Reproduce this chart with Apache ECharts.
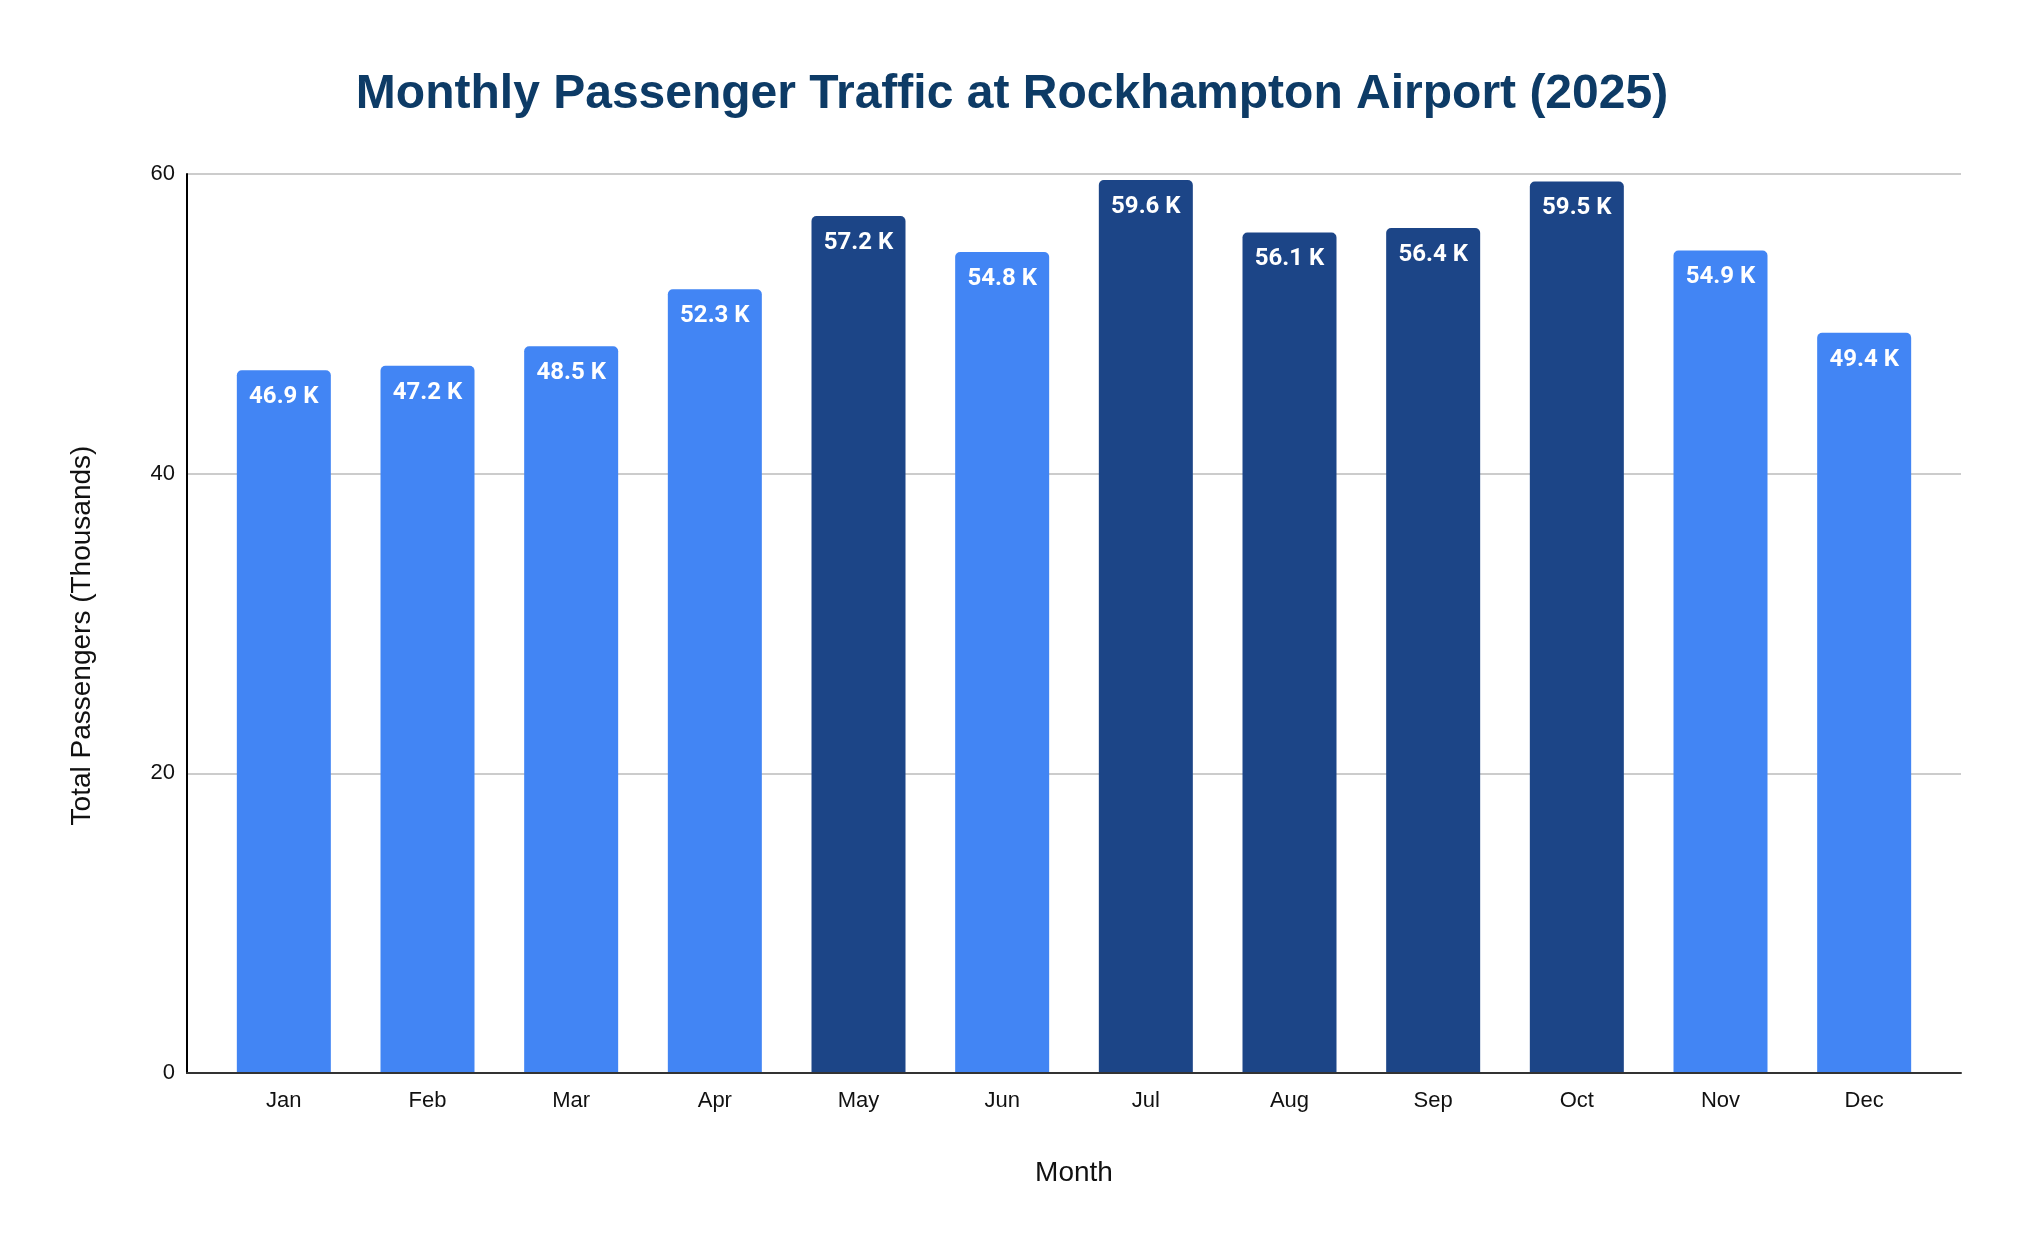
<!DOCTYPE html>
<html>
<head>
<meta charset="utf-8">
<title>Monthly Passenger Traffic at Rockhampton Airport (2025)</title>
<script src="https://cdn.jsdelivr.net/npm/echarts@6/dist/echarts.min.js"></script>
<style>
  html, body { margin: 0; padding: 0; background: #fff; }
  #main { width: 2024px; height: 1250px; }
</style>
</head>
<body>
<div id="main"></div>
<script>
var months = ['Jan', 'Feb', 'Mar', 'Apr', 'May', 'Jun', 'Jul', 'Aug', 'Sep', 'Oct', 'Nov', 'Dec'];
var passengers = [46.9, 47.2, 48.5, 52.3, 57.2, 54.8, 59.6, 56.1, 56.4, 59.5, 54.9, 49.4];
var yTicks = [0, 20, 40, 60];
var peakThreshold = 55;

var lightBlue = '#4285f4';
var darkBlue = '#1c4587';

var chart = echarts.init(document.getElementById('main'));

chart.setOption({
  backgroundColor: '#ffffff',
  animation: false,
  title: {
    text: 'Monthly Passenger Traffic at Rockhampton Airport (2025)',
    left: 'center',
    top: 66,
    textStyle: {
      fontFamily: 'Liberation Sans, Arial, sans-serif',
      fontSize: 48,
      fontWeight: 'bold',
      color: '#0d3b66'
    }
  },
  grid: [
    // frame: gridlines and axis lines
    { left: 187, right: 63, top: 174, bottom: 177 },
    // bars sit slightly inset from the frame
    { left: 212, right: 88, top: 174, bottom: 177 }
  ],
  xAxis: [{
    gridIndex: 0,
    type: 'value',
    min: 0,
    max: 1,
    z: 10,
    axisLine: { show: true, onZero: false, lineStyle: { color: '#333333', width: 2 } },
    axisTick: { show: false },
    axisLabel: { show: false },
    splitLine: { show: false },
    name: 'Month',
    nameLocation: 'middle',
    nameGap: 86,
    nameTextStyle: {
      fontFamily: 'Liberation Sans, Arial, sans-serif',
      fontSize: 28,
      color: '#111111'
    }
  }, {
    gridIndex: 1,
    type: 'category',
    data: months,
    axisLine: { show: false },
    axisTick: { show: false },
    axisLabel: {
      margin: 17,
      fontFamily: 'Liberation Sans, Arial, sans-serif',
      fontSize: 22,
      color: '#111111'
    }
  }],
  yAxis: [{
    gridIndex: 0,
    type: 'value',
    min: yTicks[0],
    max: yTicks[yTicks.length - 1],
    interval: yTicks[1] - yTicks[0],
    axisLine: { show: true, lineStyle: { color: '#000000', width: 2 } },
    axisTick: { show: false },
    axisLabel: {
      margin: 12,
      fontFamily: 'Liberation Sans, Arial, sans-serif',
      fontSize: 22,
      color: '#111111'
    },
    splitLine: { show: true, lineStyle: { color: '#cccccc', width: 2 } },
    name: 'Total Passengers (Thousands)',
    nameLocation: 'middle',
    nameGap: 91,
    nameTextStyle: {
      fontFamily: 'Liberation Sans, Arial, sans-serif',
      fontSize: 28,
      color: '#111111',
      padding: [0, 24, 0, 0]
    }
  }, {
    gridIndex: 1,
    type: 'value',
    min: yTicks[0],
    max: yTicks[yTicks.length - 1],
    interval: yTicks[1] - yTicks[0],
    show: false,
    splitLine: { show: false }
  }],
  series: [{
    type: 'bar',
    xAxisIndex: 1,
    yAxisIndex: 1,
    data: passengers,
    barWidth: 94,
    itemStyle: {
      borderRadius: [5, 5, 0, 0],
      color: function (p) {
        return p.value > peakThreshold ? darkBlue : lightBlue;
      }
    },
    label: {
      show: true,
      position: 'insideTop',
      distance: 15,
      fontFamily: 'Roboto, sans-serif',
      fontWeight: 'bold',
      fontSize: 24,
      color: '#ffffff',
      formatter: function (p) {
        return p.value.toFixed(1) + ' K';
      }
    }
  }]
});
</script>
</body>
</html>
